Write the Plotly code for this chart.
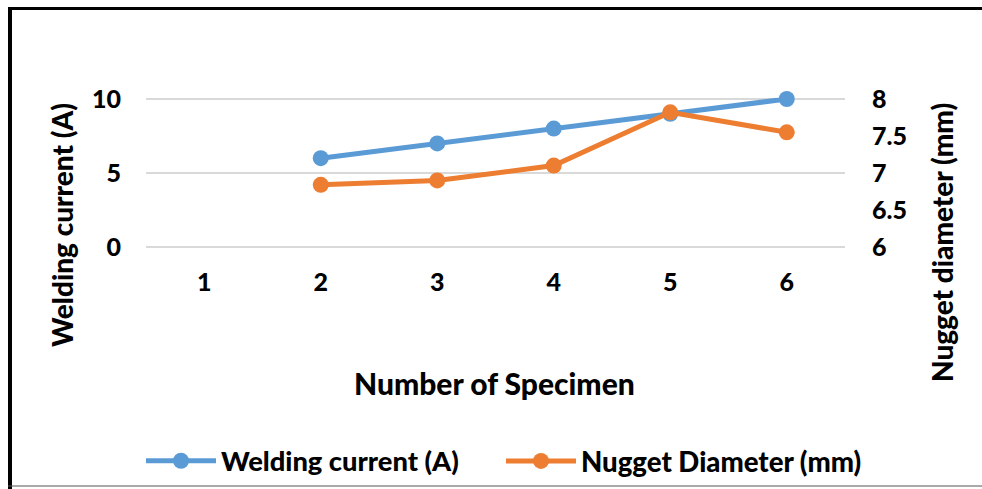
import plotly.graph_objects as go

# Specimen numbers on the category axis
specimens = ["1", "2", "3", "4", "5", "6"]

# Welding current (A) for specimens 2-6 (specimen 1 has no reading)
current_x = ["2", "3", "4", "5", "6"]
current_a = [6, 7, 8, 9, 10]

# Nugget diameter (mm) for specimens 2-6
nugget_x = ["2", "3", "4", "5", "6"]
nugget_mm = [6.84, 6.9, 7.1, 7.82, 7.55]

left_ticks = [0, 5, 10]
right_ticks = [6, 6.5, 7, 7.5, 8]

BLUE = "#5B9BD5"
ORANGE = "#ED7D31"
FONT = "Lato"
W, H = 982, 489

fig = go.Figure()
fig.add_trace(go.Scatter(
    x=current_x, y=current_a, name="Welding current (A)",
    mode="lines+markers", line=dict(color=BLUE, width=5),
    marker=dict(color=BLUE, size=16), yaxis="y", cliponaxis=False,
    legend="legend",
))
fig.add_trace(go.Scatter(
    x=nugget_x, y=nugget_mm, name="Nugget Diameter (mm)",
    mode="lines+markers", line=dict(color=ORANGE, width=5),
    marker=dict(color=ORANGE, size=16), yaxis="y2", cliponaxis=False,
    legend="legend2",
))

# plot area in pixels (padded a little so the edge gridlines stay visible)
x0, x1 = 146, 845
pad = 1.48
y_top, y_bot = 99 - pad, 247 + pad

tick_font = dict(family=FONT, size=25, color="black", weight=900)


def legend_at(px, size):
    return dict(
        orientation="h", x=px / W, xanchor="left", y=1 - 461 / H,
        yanchor="middle", itemwidth=70, bgcolor="rgba(0,0,0,0)",
        font=dict(family=FONT, size=size, color="black", weight=900),
    )


fig.update_layout(
    width=W, height=H,
    margin=dict(l=0, r=0, t=0, b=0),
    paper_bgcolor="white", plot_bgcolor="white",
    font=dict(family=FONT, size=25, color="black"),
    xaxis=dict(
        type="category", categoryorder="array", categoryarray=specimens,
        range=[-0.5, 5.5], domain=[x0 / W, x1 / W],
        showgrid=False, zeroline=False, showline=False, ticks="",
        tickfont=tick_font, ticklabelstandoff=17, automargin=False,
    ),
    yaxis=dict(
        range=[-0.1, 10.1], tickvals=left_ticks,
        domain=[1 - y_bot / H, 1 - y_top / H],
        showgrid=True, gridcolor="#D9D9D9", gridwidth=2, zeroline=False,
        showline=False, ticks="",
        tickfont=tick_font, ticklabelstandoff=24, automargin=False,
    ),
    yaxis2=dict(
        range=[5.98, 8.02], tickvals=right_ticks, overlaying="y", side="right",
        anchor="x", showgrid=False, zeroline=False, showline=False, ticks="",
        tickfont=tick_font, ticklabelstandoff=26, automargin=False,
    ),
    legend=legend_at(141, 27.3),
    legend2=legend_at(501, 27.6),
    showlegend=True,
)

title_font = dict(family=FONT, size=30, color="black", weight=900)
side_title_font = dict(family=FONT, size=28, color="black", weight=900)

# axis titles
fig.add_annotation(
    text="Number of Specimen", x=495 / W, y=1 - 383 / H,
    xref="paper", yref="paper", xanchor="center", yanchor="middle",
    showarrow=False, font=title_font,
)
fig.add_annotation(
    text="Welding current (A)", x=62 / W, y=1 - 225 / H,
    xref="paper", yref="paper", xanchor="center", yanchor="middle",
    showarrow=False, textangle=-90, font=side_title_font,
)
fig.add_annotation(
    text="Nugget diameter (mm)", x=942 / W, y=1 - 243 / H,
    xref="paper", yref="paper", xanchor="center", yanchor="middle",
    showarrow=False, textangle=-90, font=side_title_font,
)

# outer frame: heavy left and top edges, thin bottom edge
fig.add_shape(type="line", xref="paper", yref="paper",
              x0=10 / W, x1=10 / W, y0=0, y1=1 - 8 / H,
              line=dict(color="black", width=4))
fig.add_shape(type="line", xref="paper", yref="paper",
              x0=8 / W, x1=1, y0=1 - 8.5 / H, y1=1 - 8.5 / H,
              line=dict(color="black", width=3))
fig.add_shape(type="line", xref="paper", yref="paper",
              x0=8 / W, x1=1, y0=1 - 486 / H, y1=1 - 486 / H,
              line=dict(color="#555555", width=1))

fig.write_html("out.html")
